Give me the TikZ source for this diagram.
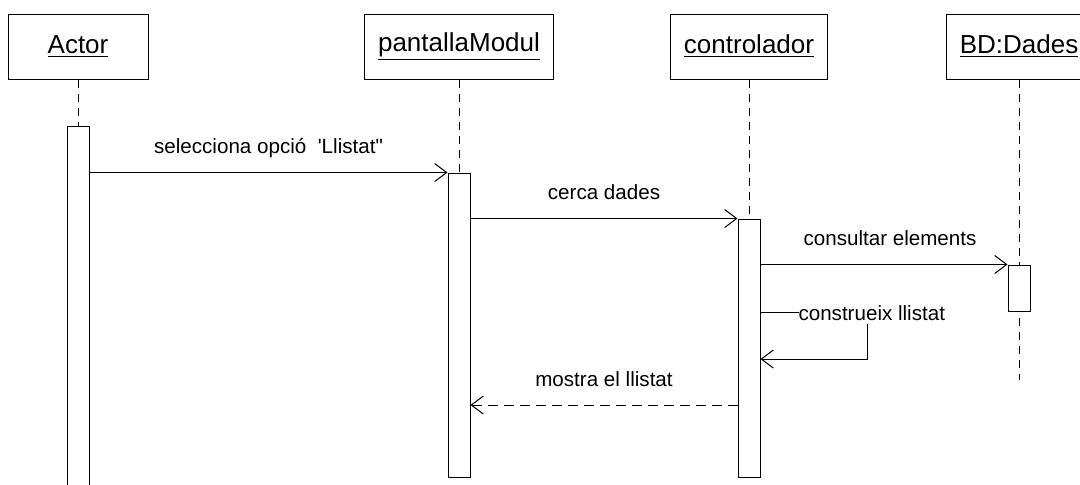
\documentclass[tikz,border=0pt]{standalone}
\usepackage{fontspec}
\setmainfont{Liberation Sans}
\usetikzlibrary{arrows.meta}

\tikzset{
  objbox/.style={draw, minimum height=32.5pt, inner sep=0pt, font=\fontsize{13}{15}\selectfont},
  actbar/.style={draw, fill=white, minimum width=11pt, inner sep=0pt},
  lifeline/.style={dash pattern=on 4pt off 3pt},
  msg/.style={-{Straight Barb[length=6pt,width=9pt]}},
  retmsg/.style={msg, dash pattern=on 5pt off 3pt},
  msglabel/.style={font=\fontsize{10.3}{12}\selectfont, inner sep=0pt}
}

\begin{document}
\begin{tikzpicture}[x=0.5pt,y=-0.5pt,line width=0.5pt]
\clip (0,0) rectangle (1080,484);

% objects
\node[objbox, minimum width=70pt] (hdrA) at (78,46.5) {\underline{Actor}};
\node[objbox, minimum width=94.5pt] (hdrP) at (459,46.5) {\underline{pantallaModul}};
\node[objbox, minimum width=78.5pt] (hdrC) at (749,46.5) {\underline{controlador}};
\node[objbox, minimum width=73pt] (hdrB) at (1019,46.5) {\underline{BD:Dades}};

% lifelines
\coordinate (endB) at (1019,380);
\draw[lifeline] (hdrA.south) -- (78,126);
\draw[lifeline] (hdrP.south) -- (459,173);
\draw[lifeline] (hdrC.south) -- (749,219);
\draw[lifeline] (hdrB.south) -- (endB);

% activations
\node[actbar, minimum height=182pt] (barA) at (78,308) {};
\node[actbar, minimum height=152pt] (barP) at (459,325) {};
\node[actbar, minimum height=129pt] (barC) at (749,348) {};
\node[actbar, minimum height=23pt] (barB) at (1019,288) {};

% messages
\draw[msg] (barA.east |- barP.north west) -- (barP.north west)
  node[msglabel, midway, anchor=base, yshift=9.5pt] {selecciona opció\ \ \textquotesingle Llistat\textquotedbl};
\draw[msg] (barP.east |- barC.north west) -- (barC.north west)
  node[msglabel, midway, anchor=base, yshift=9.5pt] {cerca dades};
\draw[msg] (barC.east |- barB.north west) -- (barB.north west)
  node[msglabel, midway, anchor=base, xshift=3pt, yshift=9.5pt] {consultar elements};

% self call
\coordinate (selfA) at (761,312);
\coordinate (selfB) at (867,359);
\draw[msg] (barC.east |- selfA) -| (selfB) -- (barC.east |- selfB);
\node[msglabel, fill=white, inner ysep=2pt, anchor=base west] (selfL) at (798,320) {construeix llistat};

% return
\coordinate (retY) at (600,405);
\draw[retmsg] (barC.west |- retY) -- (barP.east |- retY)
  node[msglabel, midway, anchor=base, yshift=9.5pt] {mostra el llistat};
\end{tikzpicture}
\end{document}
